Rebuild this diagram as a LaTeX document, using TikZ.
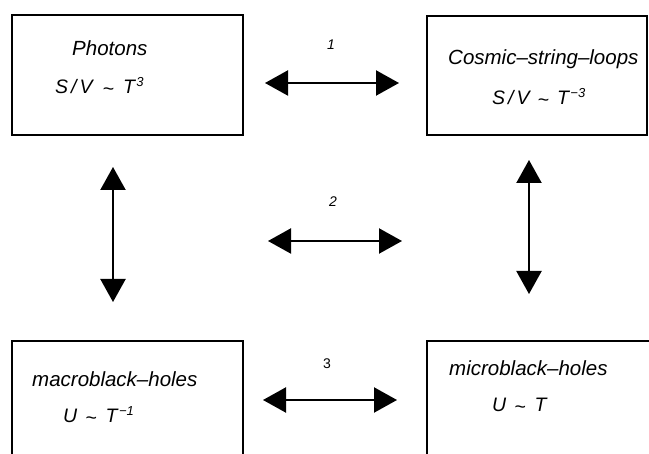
\documentclass[tikz,border=0pt]{standalone}
\usepackage{fontspec}
\setmainfont{Liberation Sans}
\usetikzlibrary{arrows.meta}

\newcommand{\tild}{\raisebox{-1.5pt}{\textasciitilde}}
\newcommand{\expo}[1]{\hspace{1.5pt}\raisebox{7.5pt}{\fontsize{13}{13}\selectfont #1}}

\tikzset{
  caja/.style={draw, line width=1.6pt, inner sep=0pt},
  texto/.style={inner sep=0pt, anchor=base west, font=\fontsize{20.5}{24}\selectfont\itshape},
  formula/.style={inner sep=0pt, anchor=base west, font=\fontsize{19.5}{24}\selectfont\itshape},
  numero/.style={inner sep=0pt, font=\fontsize{14}{16}\selectfont\itshape},
  flecha/.style={line width=2.2pt, {Triangle[length=23pt,width=25pt]}-{Triangle[length=23pt,width=25pt]}}
}

\begin{document}
\begin{tikzpicture}[x=1pt,y=-1pt]
\clip (0,0) rectangle (649,454);
% Cajas
\node[caja, minimum width=231pt, minimum height=120pt] (photons) at (127.5,75) {};
\node[caja, minimum width=220pt, minimum height=119pt] (loops) at (537,75.5) {};
\node[caja, minimum width=231pt, minimum height=120pt] (macro) at (127.5,401) {};
\node[caja, minimum width=240pt, minimum height=120pt] (micro) at (547,401) {};
% Textos de las cajas
\node[texto] (tphotons) at (72,56) {Photons};
\node[formula] (fphotons) at (55,94) {S\hspace{3pt}/\hspace{3pt}V\hspace{10pt}\tild\hspace{9pt}T\expo{3}};
\node[texto] (tloops) at (448,65) {Cosmic–string–loops};
\node[formula] (floops) at (492,105) {S\hspace{3pt}/\hspace{3pt}V\hspace{8pt}\tild\hspace{8pt}T\expo{−3}};
\node[texto] (tmacro) at (32,387) {macroblack–holes};
\node[formula] (fmacro) at (63,423) {U\hspace{8pt}\tild\hspace{9pt}T\expo{−1}};
\node[texto] (tmicro) at (449,376) {microblack–holes};
\node[formula] (fmicro) at (492,412) {U\hspace{8pt}\tild\hspace{9pt}T};
% Extremos de las flechas
\coordinate (a1) at (265,83);
\coordinate (b1) at (399,83);
\coordinate (a2) at (268,241);
\coordinate (b2) at (402,241);
\coordinate (a3) at (263,400);
\coordinate (b3) at (397,400);
\coordinate (izqarr) at (113,167);
\coordinate (izqab) at (113,302);
\coordinate (derarr) at (529,160);
\coordinate (derab) at (529,294);
% Flechas
\draw[flecha] (a1) -- (b1);
\draw[flecha] (a2) -- (b2);
\draw[flecha] (a3) -- (b3);
\draw[flecha] (izqarr) -- (izqab);
\draw[flecha] (derarr) -- (derab);
% Numeros
\node[numero] (n1) at (331,45) {1};
\node[numero] (n2) at (333,202) {2};
\node[numero, font=\fontsize{14}{16}\selectfont\upshape] (n3) at (327,364) {3};
\end{tikzpicture}
\end{document}
